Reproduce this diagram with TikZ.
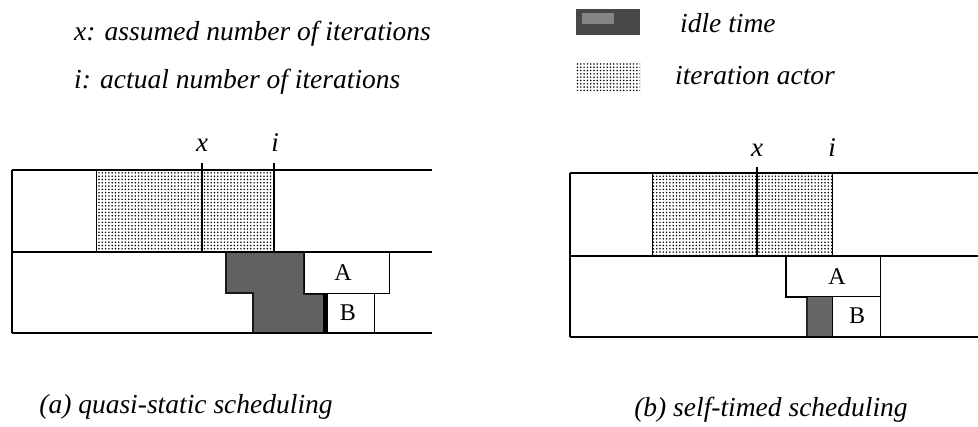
\documentclass[tikz,border=0pt]{standalone}
\usepackage{fontspec}
\setmainfont{Liberation Serif}
\usetikzlibrary{patterns.meta}
\tikzset{
  frameline/.style={line width=1.3pt, black},
  thinline/.style={line width=1pt, black},
  markline/.style={line width=2.2pt, black},
  dotfill/.style={pattern={Dots[distance=3.3pt, radius=0.85pt]}, pattern color=black},
  idle/.style={fill=black!62, draw=black!90, line width=1.2pt},
  idlebar/.style={line width=3.5pt, black},
  hdr/.style={font=\fontsize{27.5}{32}\selectfont\itshape, inner sep=0pt, anchor=west},
  captxt/.style={font=\fontsize{27.5}{32}\selectfont\itshape, inner sep=0pt},
  lbl/.style={font=\fontsize{27}{30}\selectfont\itshape, inner sep=0pt},
  boxtxt/.style={font=\fontsize{24}{28}\selectfont, inner sep=0pt}
}
\begin{document}
\begin{tikzpicture}[x=1pt,y=-1pt]
\useasboundingbox (0,0) rectangle (978,427);
% ---------- header ----------
\node[hdr] (t1) at (74,34) {x: assumed number of iterations};
\node[hdr] (t2) at (74,82) {i: actual number of iterations};
\fill[black!72] (576,9) rectangle (640,35);
\fill[black!48] (582,13) rectangle (614,24);
\node[hdr] (lg1) at (680,23) {idle time};
\fill[dotfill] (576,63) rectangle (640,93);
\node[hdr] (lg2) at (675,76) {iteration actor};
% ---------- (a) quasi-static ----------
\fill[dotfill] (96,170) rectangle (274,252);
\draw[thinline] (96,170) -- (96,252);
\filldraw[idle] (226,252) -- (304,252) -- (304,294) -- (326,294) -- (326,333)
   -- (253,333) -- (253,293) -- (226,293) -- cycle;
\draw[idlebar] (325,294) -- (325,333);
\draw[frameline] (12,170) -- (432,170);
\draw[frameline] (12,252) -- (432,252);
\draw[frameline] (12,333) -- (432,333);
\draw[frameline] (12,170) -- (12,333);
\draw[thinline] (304,252) rectangle (389,294);
\draw[thinline] (327,294) rectangle (374,333);
\node[boxtxt] (Aa) at (343,273) {A};
\node[boxtxt] (Ba) at (348,313) {B};
\draw[markline] (202,163) -- (202,252);
\draw[markline] (274,163) -- (274,252);
\node[lbl] (xa) at (202,145) {x};
\node[lbl] (ia) at (275,143) {i};
\node[captxt] (ca) at (186,407) {(a) quasi-static scheduling};
% ---------- (b) self-timed ----------
\fill[dotfill] (652,173) rectangle (832,256);
\draw[thinline] (652,173) -- (652,256);
\draw[thinline] (832,173) -- (832,256);
\fill[black!60] (806,297) rectangle (832,337);
\draw[line width=2pt, black!85] (807,297) -- (807,337);
\draw[frameline] (570,173) -- (978,173);
\draw[frameline] (570,256) -- (978,256);
\draw[frameline] (570,337) -- (978,337);
\draw[frameline] (570,173) -- (570,337);
\draw[thinline] (786,256) rectangle (880,297);
\draw[thinline] (832,297) rectangle (880,337);
\node[boxtxt] (Ab) at (837,277) {A};
\node[boxtxt] (Bb) at (857,316) {B};
\draw[markline] (757,167) -- (757,256);
\draw[markline] (756,256) -- (786,256) -- (786,297) -- (807,297);
\node[lbl] (xb) at (757,150) {x};
\node[lbl] (ib) at (832,148) {i};
\node[captxt] (cb) at (771,410) {(b) self-timed scheduling};
\end{tikzpicture}
\end{document}
